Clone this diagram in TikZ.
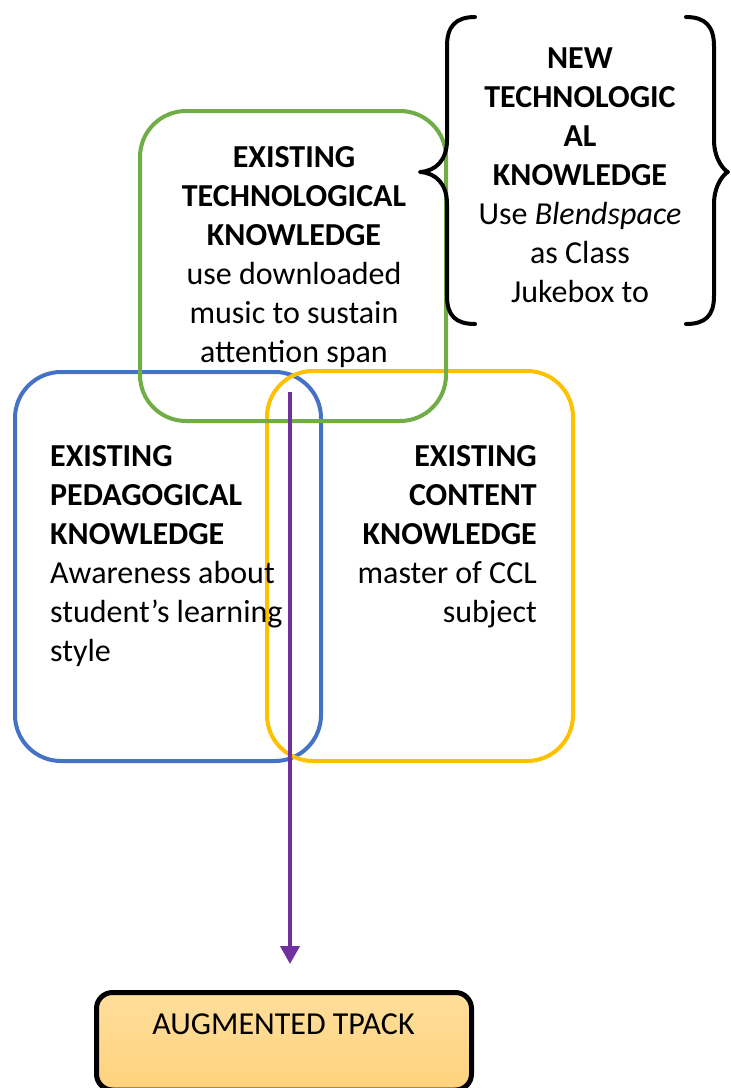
\documentclass[tikz,border=0pt]{standalone}
\usepackage{fontspec}
\setmainfont{Carlito}
\usetikzlibrary{arrows.meta}
\definecolor{tkgreen}{RGB}{112,173,71}
\definecolor{pkblue}{RGB}{68,114,196}
\definecolor{ckyellow}{RGB}{255,192,0}
\definecolor{arrowpurple}{RGB}{112,48,160}
\definecolor{tptop}{RGB}{255,222,156}
\definecolor{tpbot}{RGB}{255,210,125}
\newcommand\firstline{\rule{0pt}{24pt}}
\tikzset{
  knowbox/.style={draw, line width=4pt, rounded corners=46pt, minimum width=306pt, inner sep=0pt},
  txt/.style={inner sep=0pt, font=\fontsize{32}{39}\selectfont},
  bracepath/.style={draw=black, line width=4pt, line cap=round, line join=round},
}
\begin{document}
\begin{tikzpicture}[x=1pt,y=-1pt]
\useasboundingbox (0,0) rectangle (731,1088);
\fill[white] (0,0) rectangle (731,1088);

% boxes
\node[knowbox, draw=pkblue, minimum height=389pt] (pk) at (168,566.5) {};
\node[knowbox, draw=ckyellow, minimum height=390pt] (ck) at (420,566) {};
\node[knowbox, draw=tkgreen, minimum height=310pt] (tk) at (293,266) {};

% texts
\node[txt, anchor=north, align=center] (tktext) at (294,143)
  {\firstline\textbf{EXISTING}\\\textbf{TECHNOLOGICAL}\\\textbf{KNOWLEDGE}\\use downloaded\\music to sustain\\attention span};
\node[txt, anchor=north west, align=left] (pktext) at (50,442)
  {\firstline\textbf{EXISTING}\\\textbf{PEDAGOGICAL}\\\textbf{KNOWLEDGE}\\Awareness about\\student’s learning\\style};
\node[txt, anchor=north east, align=right] (cktext) at (537,442)
  {\firstline\textbf{EXISTING}\\\textbf{CONTENT}\\\textbf{KNOWLEDGE}\\master of CCL\\subject};
\node[inner sep=0pt, font=\fontsize{32}{38.9}\selectfont, anchor=north, align=center] (newtext) at (580,44.5)
  {\firstline\textbf{NEW}\\\textbf{TECHNOLOGIC}\\\textbf{AL}\\\textbf{KNOWLEDGE}\\Use \textit{Blendspace}\\as Class\\Jukebox to};

% braces
\path[bracepath] (475,17) .. controls (456,17) and (447,26) .. (447,46) -- (447,140)
  .. controls (447,160) and (436,171) .. (420,172)
  .. controls (436,173) and (447,184) .. (447,204) -- (447,296)
  .. controls (447,316) and (456,324) .. (475,324);
\path[bracepath] (686,17) .. controls (705,17) and (714,26) .. (714,46) -- (714,140)
  .. controls (714,160) and (725,171) .. (728,172)
  .. controls (725,173) and (714,184) .. (714,204) -- (714,296)
  .. controls (714,316) and (705,324) .. (686,324);

% result box
\node[draw=black, line width=5pt, rounded corners=16pt, minimum width=375pt, minimum height=97.5pt,
      top color=tptop, bottom color=tpbot, inner sep=0pt] (tpack) at (284,1041.25) {};
\node[inner sep=0pt, font=\fontsize{32}{39}\selectfont, anchor=base] (tpacktext) at (283.5,1034) {AUGMENTED TPACK};

% arrow
\coordinate (astart) at (290,392);
\draw[arrowpurple, line width=4pt, shorten >=26pt, -{Triangle[width=19pt,length=18pt]}]
  (astart) -- (tpack.north -| astart);
\end{tikzpicture}
\end{document}
